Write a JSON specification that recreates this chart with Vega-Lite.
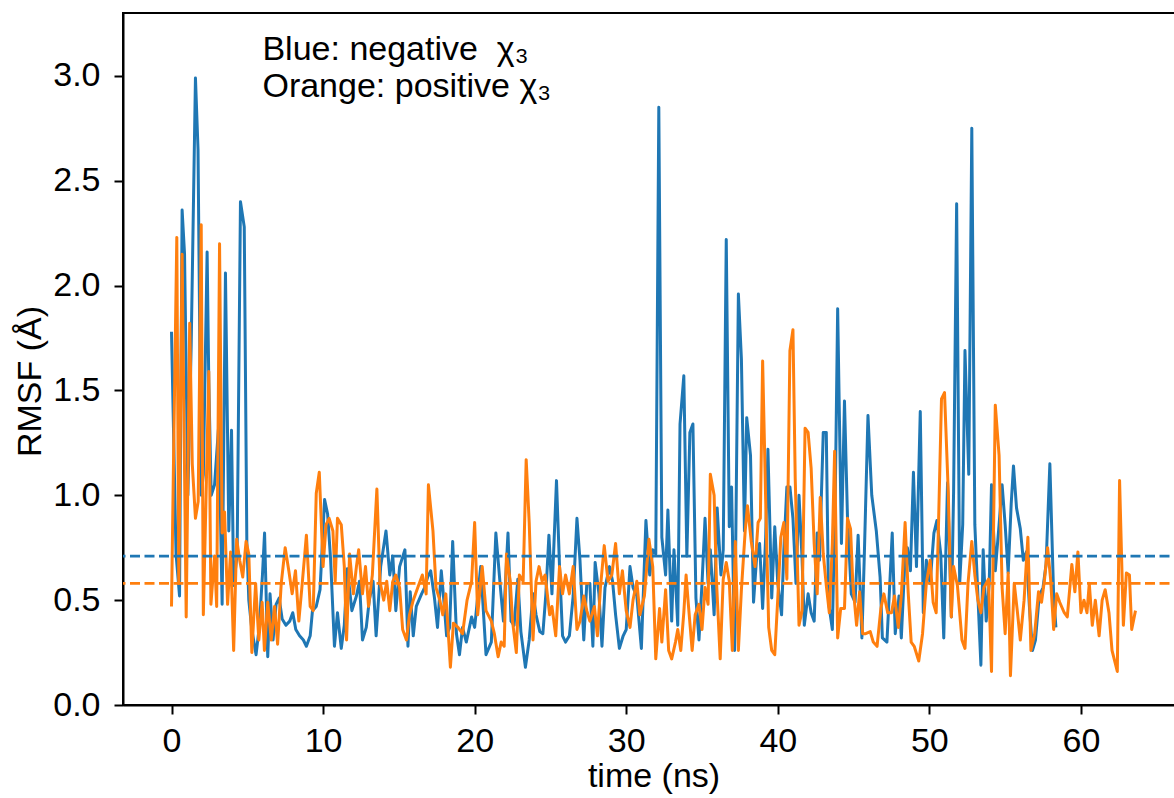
{
"$schema":"https://vega.github.io/schema/vega-lite/v6.json",
"width":1061,"height":692,
"autosize":{"type":"none"},
"padding":{"left":123,"top":13,"right":0,"bottom":93},
"background":"white",
"config":{"view":{"stroke":"#000","strokeWidth":2},"font":"Liberation Sans",
"axis":{"grid":false,"domainColor":"#000","domainWidth":2,"tickColor":"#000","tickWidth":2,"tickSize":9,"labelFont":"Liberation Sans","labelFontSize":34,"labelColor":"#000","titleFont":"Liberation Sans","titleFontSize":34,"titleFontWeight":"normal","titleColor":"#000"}},
"datasets":{
"blue":[{"t":0,"v":1.78},{"t":0.3,"v":0.72},{"t":0.53,"v":0.52},{"t":0.7,"v":2.36},{"t":0.86,"v":2.15},{"t":1.08,"v":1.0},{"t":1.3,"v":1.72},{"t":1.58,"v":2.99},{"t":1.75,"v":2.65},{"t":1.96,"v":1.0},{"t":2.1,"v":1.1},{"t":2.35,"v":2.16},{"t":2.46,"v":1.54},{"t":2.62,"v":1.0},{"t":2.84,"v":1.05},{"t":3.12,"v":1.34},{"t":3.34,"v":0.48},{"t":3.56,"v":2.06},{"t":3.78,"v":0.83},{"t":3.96,"v":1.31},{"t":4.1,"v":0.57},{"t":4.33,"v":0.72},{"t":4.55,"v":2.4},{"t":4.8,"v":2.28},{"t":4.97,"v":0.78},{"t":5.1,"v":0.5},{"t":5.3,"v":0.36},{"t":5.58,"v":0.24},{"t":5.8,"v":0.38},{"t":6.0,"v":0.62},{"t":6.14,"v":0.82},{"t":6.35,"v":0.23},{"t":6.5,"v":0.53},{"t":6.7,"v":0.31},{"t":6.9,"v":0.48},{"t":7.1,"v":0.51},{"t":7.3,"v":0.41},{"t":7.55,"v":0.38},{"t":7.8,"v":0.4},{"t":8.0,"v":0.44},{"t":8.2,"v":0.36},{"t":8.45,"v":0.33},{"t":8.7,"v":0.31},{"t":8.9,"v":0.28},{"t":9.15,"v":0.33},{"t":9.3,"v":0.45},{"t":9.55,"v":0.47},{"t":9.8,"v":0.55},{"t":10.1,"v":0.98},{"t":10.3,"v":0.91},{"t":10.5,"v":0.69},{"t":10.75,"v":0.28},{"t":10.95,"v":0.44},{"t":11.2,"v":0.27},{"t":11.4,"v":0.38},{"t":11.6,"v":0.65},{"t":11.9,"v":0.45},{"t":12.2,"v":0.52},{"t":12.4,"v":0.59},{"t":12.6,"v":0.31},{"t":12.85,"v":0.37},{"t":13.05,"v":0.5},{"t":13.3,"v":0.59},{"t":13.5,"v":0.33},{"t":13.8,"v":0.66},{"t":14.15,"v":0.83},{"t":14.4,"v":0.62},{"t":14.6,"v":0.71},{"t":14.8,"v":0.45},{"t":15.05,"v":0.66},{"t":15.4,"v":0.74},{"t":15.6,"v":0.28},{"t":15.75,"v":0.54},{"t":15.95,"v":0.33},{"t":16.15,"v":0.47},{"t":16.5,"v":0.53},{"t":16.7,"v":0.56},{"t":16.9,"v":0.61},{"t":17.1,"v":0.64},{"t":17.35,"v":0.51},{"t":17.55,"v":0.37},{"t":17.8,"v":0.64},{"t":18.0,"v":0.47},{"t":18.15,"v":0.33},{"t":18.35,"v":0.37},{"t":18.55,"v":0.78},{"t":18.8,"v":0.34},{"t":19.0,"v":0.24},{"t":19.2,"v":0.37},{"t":19.45,"v":0.3},{"t":19.8,"v":0.42},{"t":20.0,"v":0.37},{"t":20.4,"v":0.66},{"t":20.75,"v":0.24},{"t":21.1,"v":0.3},{"t":21.4,"v":0.82},{"t":21.7,"v":0.56},{"t":21.9,"v":0.4},{"t":22.2,"v":0.82},{"t":22.4,"v":0.4},{"t":22.6,"v":0.38},{"t":22.85,"v":0.6},{"t":23.05,"v":0.35},{"t":23.35,"v":0.18},{"t":23.6,"v":0.31},{"t":23.85,"v":0.53},{"t":24.05,"v":0.43},{"t":24.3,"v":0.35},{"t":24.5,"v":0.34},{"t":24.7,"v":0.53},{"t":24.9,"v":0.81},{"t":25.1,"v":0.53},{"t":25.4,"v":1.07},{"t":25.6,"v":0.66},{"t":25.8,"v":0.33},{"t":26.0,"v":0.3},{"t":26.25,"v":0.33},{"t":26.5,"v":0.52},{"t":26.75,"v":0.89},{"t":26.95,"v":0.69},{"t":27.2,"v":0.31},{"t":27.4,"v":0.58},{"t":27.6,"v":0.58},{"t":27.8,"v":0.28},{"t":27.95,"v":0.68},{"t":28.2,"v":0.53},{"t":28.4,"v":0.28},{"t":28.6,"v":0.56},{"t":28.9,"v":0.66},{"t":29.1,"v":0.59},{"t":29.3,"v":0.43},{"t":29.55,"v":0.27},{"t":29.8,"v":0.33},{"t":30.0,"v":0.36},{"t":30.25,"v":0.66},{"t":30.45,"v":0.56},{"t":30.7,"v":0.52},{"t":31.0,"v":0.27},{"t":31.3,"v":0.88},{"t":31.55,"v":0.62},{"t":31.75,"v":0.74},{"t":31.95,"v":0.72},{"t":32.15,"v":2.85},{"t":32.35,"v":0.8},{"t":32.6,"v":0.62},{"t":32.75,"v":0.93},{"t":33.0,"v":0.4},{"t":33.15,"v":0.74},{"t":33.4,"v":0.38},{"t":33.55,"v":1.34},{"t":33.8,"v":1.57},{"t":34.0,"v":0.71},{"t":34.2,"v":1.3},{"t":34.4,"v":1.34},{"t":34.6,"v":0.51},{"t":34.8,"v":0.31},{"t":35.0,"v":0.58},{"t":35.2,"v":0.89},{"t":35.4,"v":0.58},{"t":35.55,"v":0.74},{"t":35.8,"v":0.43},{"t":36.0,"v":0.94},{"t":36.25,"v":0.62},{"t":36.4,"v":0.74},{"t":36.6,"v":2.22},{"t":36.8,"v":0.85},{"t":36.95,"v":1.04},{"t":37.15,"v":0.26},{"t":37.4,"v":1.96},{"t":37.6,"v":1.65},{"t":37.8,"v":0.83},{"t":37.95,"v":1.37},{"t":38.2,"v":1.19},{"t":38.4,"v":0.49},{"t":38.6,"v":0.7},{"t":38.8,"v":0.77},{"t":39.0,"v":0.46},{"t":39.2,"v":0.8},{"t":39.35,"v":1.22},{"t":39.6,"v":0.51},{"t":39.8,"v":0.85},{"t":40.0,"v":0.58},{"t":40.25,"v":0.43},{"t":40.4,"v":0.74},{"t":40.6,"v":1.04},{"t":40.8,"v":1.04},{"t":41.0,"v":0.89},{"t":41.2,"v":0.58},{"t":41.4,"v":1.0},{"t":41.6,"v":0.7},{"t":41.75,"v":0.38},{"t":42.0,"v":0.53},{"t":42.2,"v":0.44},{"t":42.4,"v":0.4},{"t":42.6,"v":0.82},{"t":42.75,"v":0.69},{"t":43.0,"v":1.3},{"t":43.2,"v":1.3},{"t":43.35,"v":0.49},{"t":43.6,"v":0.36},{"t":43.8,"v":1.04},{"t":43.95,"v":1.89},{"t":44.2,"v":0.77},{"t":44.4,"v":1.45},{"t":44.6,"v":0.89},{"t":44.85,"v":0.53},{"t":45.1,"v":0.49},{"t":45.3,"v":0.81},{"t":45.55,"v":0.32},{"t":45.7,"v":0.69},{"t":45.95,"v":1.38},{"t":46.2,"v":1.0},{"t":46.5,"v":0.83},{"t":46.75,"v":0.61},{"t":46.9,"v":0.32},{"t":47.2,"v":0.3},{"t":47.35,"v":0.52},{"t":47.55,"v":0.82},{"t":47.75,"v":0.34},{"t":48.0,"v":0.52},{"t":48.15,"v":0.32},{"t":48.4,"v":0.71},{"t":48.55,"v":0.75},{"t":48.75,"v":0.64},{"t":48.95,"v":1.11},{"t":49.15,"v":0.66},{"t":49.4,"v":1.4},{"t":49.6,"v":0.44},{"t":49.8,"v":0.69},{"t":50.05,"v":0.58},{"t":50.3,"v":0.82},{"t":50.5,"v":0.88},{"t":50.75,"v":0.72},{"t":50.95,"v":0.32},{"t":51.2,"v":1.06},{"t":51.45,"v":0.42},{"t":51.6,"v":1.02},{"t":51.8,"v":2.39},{"t":52.0,"v":0.58},{"t":52.2,"v":0.86},{"t":52.35,"v":1.69},{"t":52.6,"v":1.1},{"t":52.8,"v":2.75},{"t":53.0,"v":0.86},{"t":53.4,"v":0.19},{"t":53.55,"v":0.74},{"t":53.75,"v":0.4},{"t":53.95,"v":0.58},{"t":54.1,"v":1.05},{"t":54.35,"v":0.64},{"t":54.6,"v":0.86},{"t":54.8,"v":1.05},{"t":55.0,"v":0.86},{"t":55.2,"v":0.63},{"t":55.4,"v":0.96},{"t":55.55,"v":1.14},{"t":55.75,"v":0.94},{"t":56.0,"v":0.84},{"t":56.2,"v":0.69},{"t":56.4,"v":0.73},{"t":56.6,"v":0.47},{"t":56.8,"v":0.26},{"t":57.0,"v":0.31},{"t":57.25,"v":0.52},{"t":57.5,"v":0.56},{"t":57.7,"v":0.67},{"t":57.95,"v":1.15},{"t":58.2,"v":0.52},{"t":58.35,"v":0.37}],
"orange":[{"t":0,"v":0.47},{"t":0.13,"v":1.15},{"t":0.35,"v":2.23},{"t":0.48,"v":0.58},{"t":0.7,"v":2.15},{"t":0.97,"v":0.42},{"t":1.2,"v":1.82},{"t":1.37,"v":1.15},{"t":1.58,"v":0.89},{"t":1.76,"v":0.97},{"t":1.96,"v":2.29},{"t":2.1,"v":0.43},{"t":2.3,"v":1.06},{"t":2.46,"v":1.59},{"t":2.6,"v":0.48},{"t":2.84,"v":0.71},{"t":2.98,"v":0.47},{"t":3.17,"v":2.2},{"t":3.34,"v":0.82},{"t":3.5,"v":0.92},{"t":3.7,"v":0.48},{"t":3.9,"v":0.73},{"t":4.1,"v":0.26},{"t":4.3,"v":0.79},{"t":4.5,"v":0.69},{"t":4.7,"v":0.61},{"t":4.92,"v":0.78},{"t":5.1,"v":0.72},{"t":5.3,"v":0.25},{"t":5.55,"v":0.58},{"t":5.76,"v":0.31},{"t":5.98,"v":0.49},{"t":6.13,"v":0.26},{"t":6.35,"v":0.49},{"t":6.58,"v":0.31},{"t":6.8,"v":0.47},{"t":7.0,"v":0.29},{"t":7.24,"v":0.58},{"t":7.5,"v":0.75},{"t":7.74,"v":0.64},{"t":7.96,"v":0.53},{"t":8.18,"v":0.64},{"t":8.4,"v":0.4},{"t":8.6,"v":0.56},{"t":8.9,"v":0.81},{"t":9.15,"v":0.47},{"t":9.35,"v":0.45},{"t":9.55,"v":1.01},{"t":9.75,"v":1.11},{"t":10.0,"v":0.66},{"t":10.2,"v":0.86},{"t":10.4,"v":0.89},{"t":10.65,"v":0.83},{"t":10.8,"v":0.59},{"t":10.95,"v":0.89},{"t":11.2,"v":0.86},{"t":11.4,"v":0.66},{"t":11.55,"v":0.31},{"t":11.75,"v":0.72},{"t":12.0,"v":0.53},{"t":12.2,"v":0.66},{"t":12.35,"v":0.74},{"t":12.6,"v":0.53},{"t":12.8,"v":0.66},{"t":13.0,"v":0.47},{"t":13.25,"v":0.62},{"t":13.55,"v":1.03},{"t":13.75,"v":0.59},{"t":14.0,"v":0.5},{"t":14.2,"v":0.59},{"t":14.4,"v":0.45},{"t":14.6,"v":0.59},{"t":14.8,"v":0.62},{"t":15.05,"v":0.56},{"t":15.25,"v":0.36},{"t":15.5,"v":0.31},{"t":15.7,"v":0.43},{"t":15.95,"v":0.5},{"t":16.25,"v":0.56},{"t":16.55,"v":0.62},{"t":16.8,"v":0.53},{"t":16.95,"v":1.05},{"t":17.25,"v":0.83},{"t":17.45,"v":0.56},{"t":17.7,"v":0.5},{"t":17.9,"v":0.43},{"t":18.1,"v":0.53},{"t":18.4,"v":0.18},{"t":18.6,"v":0.39},{"t":18.9,"v":0.37},{"t":19.2,"v":0.34},{"t":19.5,"v":0.5},{"t":19.8,"v":0.59},{"t":20.0,"v":0.87},{"t":20.2,"v":0.43},{"t":20.5,"v":0.66},{"t":20.75,"v":0.45},{"t":21.1,"v":0.4},{"t":21.3,"v":0.34},{"t":21.55,"v":0.23},{"t":21.75,"v":0.3},{"t":21.95,"v":0.28},{"t":22.1,"v":0.72},{"t":22.35,"v":0.59},{"t":22.5,"v":0.4},{"t":22.75,"v":0.25},{"t":22.95,"v":0.62},{"t":23.2,"v":0.59},{"t":23.4,"v":1.17},{"t":23.6,"v":0.87},{"t":23.85,"v":0.31},{"t":24.05,"v":0.59},{"t":24.25,"v":0.66},{"t":24.45,"v":0.59},{"t":24.65,"v":0.62},{"t":24.95,"v":0.43},{"t":25.1,"v":0.47},{"t":25.35,"v":0.33},{"t":25.6,"v":0.66},{"t":25.8,"v":0.53},{"t":26.0,"v":0.62},{"t":26.25,"v":0.53},{"t":26.5,"v":0.66},{"t":26.75,"v":0.36},{"t":26.95,"v":0.4},{"t":27.2,"v":0.52},{"t":27.4,"v":0.45},{"t":27.6,"v":0.4},{"t":27.9,"v":0.47},{"t":28.1,"v":0.33},{"t":28.3,"v":0.56},{"t":28.55,"v":0.76},{"t":28.8,"v":0.59},{"t":29.05,"v":0.62},{"t":29.3,"v":0.77},{"t":29.55,"v":0.53},{"t":29.75,"v":0.64},{"t":30.0,"v":0.45},{"t":30.25,"v":0.37},{"t":30.45,"v":0.5},{"t":30.7,"v":0.59},{"t":30.9,"v":0.43},{"t":31.2,"v":0.52},{"t":31.5,"v":0.79},{"t":31.75,"v":0.66},{"t":31.95,"v":0.22},{"t":32.2,"v":0.46},{"t":32.35,"v":0.3},{"t":32.6,"v":0.55},{"t":32.8,"v":0.26},{"t":33.0,"v":0.22},{"t":33.25,"v":0.3},{"t":33.4,"v":0.36},{"t":33.6,"v":0.26},{"t":33.8,"v":0.44},{"t":33.95,"v":0.62},{"t":34.1,"v":0.48},{"t":34.35,"v":0.26},{"t":34.55,"v":0.43},{"t":34.8,"v":0.48},{"t":35.0,"v":0.36},{"t":35.2,"v":0.56},{"t":35.4,"v":0.48},{"t":35.55,"v":1.1},{"t":35.8,"v":1.0},{"t":35.95,"v":0.6},{"t":36.2,"v":0.22},{"t":36.4,"v":0.6},{"t":36.6,"v":0.68},{"t":36.8,"v":0.59},{"t":37.0,"v":0.26},{"t":37.2,"v":0.78},{"t":37.4,"v":0.26},{"t":37.6,"v":0.55},{"t":37.85,"v":0.83},{"t":38.0,"v":0.95},{"t":38.25,"v":0.78},{"t":38.5,"v":0.66},{"t":38.7,"v":0.87},{"t":38.85,"v":0.89},{"t":39.0,"v":1.64},{"t":39.2,"v":0.98},{"t":39.4,"v":0.37},{"t":39.6,"v":0.26},{"t":39.8,"v":0.24},{"t":40.0,"v":0.51},{"t":40.2,"v":0.8},{"t":40.4,"v":0.87},{"t":40.6,"v":0.6},{"t":40.8,"v":1.69},{"t":41.0,"v":1.79},{"t":41.15,"v":1.08},{"t":41.4,"v":0.38},{"t":41.6,"v":0.45},{"t":41.8,"v":1.32},{"t":42.0,"v":1.3},{"t":42.2,"v":1.13},{"t":42.4,"v":0.77},{"t":42.6,"v":0.53},{"t":42.8,"v":0.99},{"t":43.0,"v":0.72},{"t":43.2,"v":0.57},{"t":43.4,"v":0.44},{"t":43.6,"v":0.77},{"t":43.75,"v":1.21},{"t":43.95,"v":0.32},{"t":44.15,"v":0.46},{"t":44.4,"v":0.46},{"t":44.6,"v":0.89},{"t":44.8,"v":0.84},{"t":44.95,"v":0.58},{"t":45.2,"v":0.38},{"t":45.4,"v":0.54},{"t":45.6,"v":0.34},{"t":45.8,"v":0.34},{"t":46.1,"v":0.35},{"t":46.3,"v":0.3},{"t":46.55,"v":0.28},{"t":46.8,"v":0.46},{"t":47.0,"v":0.53},{"t":47.25,"v":0.44},{"t":47.5,"v":0.44},{"t":47.7,"v":0.52},{"t":47.95,"v":0.37},{"t":48.15,"v":0.52},{"t":48.4,"v":0.87},{"t":48.6,"v":0.54},{"t":48.8,"v":0.3},{"t":49.0,"v":0.28},{"t":49.3,"v":0.21},{"t":49.55,"v":0.34},{"t":49.8,"v":0.58},{"t":50.05,"v":0.69},{"t":50.25,"v":0.49},{"t":50.45,"v":0.44},{"t":50.6,"v":0.85},{"t":50.8,"v":1.46},{"t":51.0,"v":1.49},{"t":51.25,"v":1.01},{"t":51.45,"v":0.42},{"t":51.6,"v":0.66},{"t":51.85,"v":0.57},{"t":52.15,"v":0.31},{"t":52.35,"v":0.27},{"t":52.55,"v":0.58},{"t":52.8,"v":0.78},{"t":53.0,"v":0.62},{"t":53.2,"v":0.5},{"t":53.4,"v":0.44},{"t":53.6,"v":0.56},{"t":53.9,"v":0.6},{"t":54.1,"v":0.16},{"t":54.35,"v":1.43},{"t":54.6,"v":1.19},{"t":54.8,"v":0.56},{"t":55.0,"v":0.34},{"t":55.2,"v":0.63},{"t":55.35,"v":0.14},{"t":55.6,"v":0.58},{"t":55.8,"v":0.45},{"t":56.0,"v":0.31},{"t":56.25,"v":0.5},{"t":56.5,"v":0.8},{"t":56.7,"v":0.26},{"t":56.95,"v":0.34},{"t":57.2,"v":0.54},{"t":57.4,"v":0.49},{"t":57.6,"v":0.6},{"t":57.8,"v":0.75},{"t":58.0,"v":0.6},{"t":58.2,"v":0.36},{"t":58.4,"v":0.53},{"t":58.6,"v":0.49},{"t":58.9,"v":0.44},{"t":59.1,"v":0.42},{"t":59.4,"v":0.67},{"t":59.6,"v":0.54},{"t":59.8,"v":0.73},{"t":60.0,"v":0.44},{"t":60.2,"v":0.5},{"t":60.4,"v":0.44},{"t":60.55,"v":0.58},{"t":60.75,"v":0.38},{"t":60.95,"v":0.5},{"t":61.2,"v":0.33},{"t":61.4,"v":0.5},{"t":61.6,"v":0.55},{"t":61.85,"v":0.44},{"t":62.05,"v":0.26},{"t":62.4,"v":0.16},{"t":62.55,"v":1.07},{"t":62.8,"v":0.38},{"t":63.0,"v":0.63},{"t":63.2,"v":0.62},{"t":63.35,"v":0.36},{"t":63.6,"v":0.45}],
"means":[{"s":"neg","m":0.71},{"s":"pos","m":0.58}],
"notes":[{"t":6.0,"v":3.076,"label":"Blue: negative\u00a0 χ₃"},{"t":6.0,"v":2.9,"label":"Orange: positive χ₃"}]
},
"layer":[
{"data":{"name":"blue"},"mark":{"type":"line","color":"#1f77b4","strokeWidth":3,"strokeJoin":"round"},
"encoding":{
"x":{"field":"t","type":"quantitative","scale":{"domain":[-3.2,66.8],"nice":false,"zero":false},"axis":{"title":"time (ns)","values":[0,10,20,30,40,50,60],"labelPadding":10,"titlePadding":1,"labelFlush":false}},
"y":{"field":"v","type":"quantitative","scale":{"domain":[0,3.3],"nice":false,"zero":false},"axis":{"title":"RMSF (Å)","values":[0,0.5,1,1.5,2,2.5,3],"format":".1f","labelPadding":14,"titlePadding":5,"titleY":368,"labelFlush":false}}}},
{"data":{"name":"orange"},"mark":{"type":"line","color":"#ff7f0e","strokeWidth":3,"strokeJoin":"round"},
"encoding":{"x":{"field":"t","type":"quantitative"},"y":{"field":"v","type":"quantitative"}}},
{"data":{"name":"means"},"mark":{"type":"rule","strokeWidth":2.6,"strokeDash":[10,4.5]},
"encoding":{"y":{"field":"m","type":"quantitative"},"color":{"field":"s","type":"nominal","scale":{"domain":["neg","pos"],"range":["#1f77b4","#ff7f0e"]},"legend":null}}},
{"data":{"name":"notes"},"mark":{"type":"text","align":"left","baseline":"alphabetic","font":"Liberation Sans","fontSize":34,"color":"#000"},
"encoding":{"x":{"field":"t","type":"quantitative"},"y":{"field":"v","type":"quantitative"},"text":{"field":"label"}}}
]
}
